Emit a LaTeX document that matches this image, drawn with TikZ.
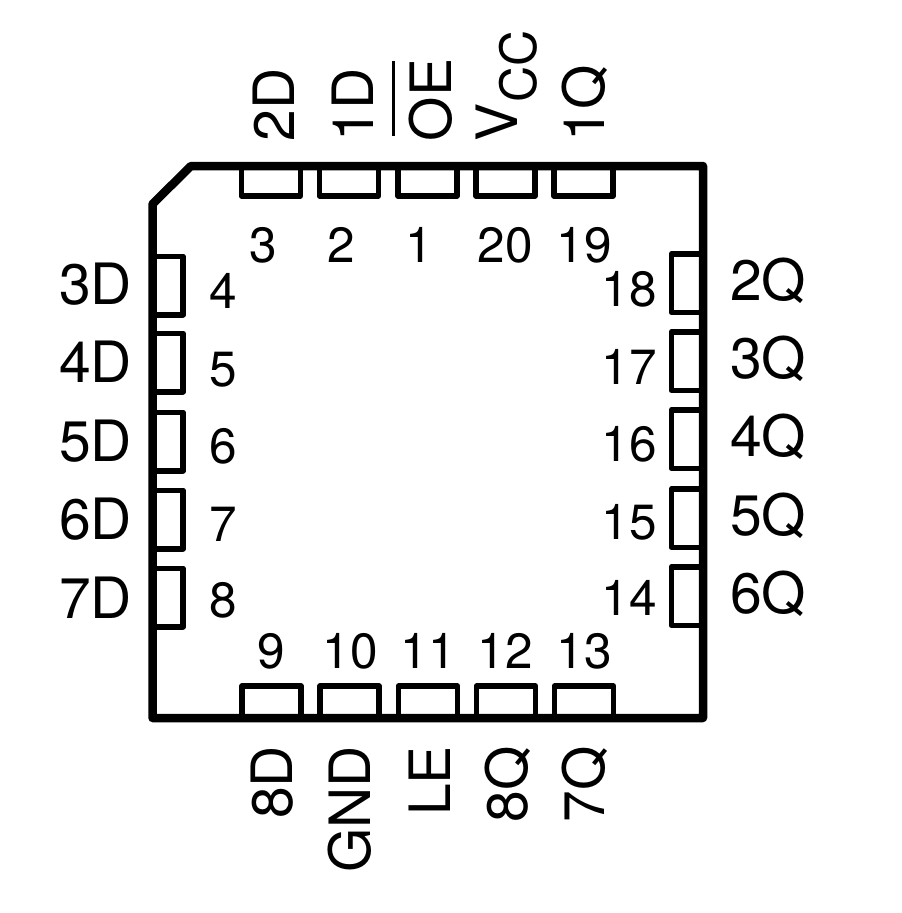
\documentclass[tikz,border=0pt]{standalone}
\usepackage{fontspec}
\setmainfont{TeX Gyre Heros}
\tikzset{
  pinbox/.style={draw=black,line width=5.5pt,line join=round,fill=none,inner sep=0pt,outer sep=0pt},
  hpin/.style={pinbox,minimum width=59pt,minimum height=36pt},
  vpin/.style={pinbox,minimum width=36pt,minimum height=58.5pt},
  sig/.style={inner sep=0pt,outer sep=0pt,font=\fontsize{57pt}{57pt}\selectfont},
  num/.style={inner sep=0pt,outer sep=0pt,font=\fontsize{49.5pt}{50pt}\selectfont},
  top sig/.style={sig,rotate=90,anchor=base west},
  bot sig/.style={sig,rotate=90,anchor=base east},
  left sig/.style={sig,anchor=base east},
  right sig/.style={sig,anchor=base west},
  num c/.style={num,anchor=base},
  num r/.style={num,anchor=base east},
}
\begin{document}
\begin{tikzpicture}[x=1pt,y=-1pt]
\useasboundingbox (0,0) rectangle (902,913);
% top pins
\node[hpin] (p3)  at (271,178) {};
\node[hpin] (p2)  at (349,178) {};
\node[hpin] (p1)  at (427.5,178) {};
\node[hpin] (p20) at (505.5,178) {};
\node[hpin] (p19) at (583.5,178) {};
% bottom pins
\node[hpin] (p9)  at (271.5,704) {};
\node[hpin] (p10) at (349.5,704) {};
\node[hpin] (p11) at (428,704) {};
\node[hpin] (p12) at (506,704) {};
\node[hpin] (p13) at (584,704) {};
% left pins
\node[vpin] (p4) at (165,285.5) {};
\node[vpin] (p5) at (165,362.5) {};
\node[vpin] (p6) at (165,441.5) {};
\node[vpin] (p7) at (165,519.5) {};
\node[vpin] (p8) at (165,597.5) {};
% right pins
\node[vpin] (p18) at (689.5,283) {};
\node[vpin] (p17) at (689.5,361) {};
\node[vpin] (p16) at (689.5,439) {};
\node[vpin] (p15) at (689.5,518) {};
\node[vpin] (p14) at (689.5,596) {};
% package outline, over the pins
\fill[white] (119,130) rectangle (152,660);
\fill[white] (703,130) rectangle (730,660);
\fill[white] (230,138) rectangle (630,166);
\fill[white] (230,718) rectangle (630,745);
\draw[line width=8.5pt,line join=round] (191,166) -- (703,166) -- (703,718) -- (152.5,718) -- (152.5,204) -- cycle;
% top labels
\node[top sig] (l2d) at (294.5,141) {2D};
\node[top sig] (l1d) at (373,141) {1D};
\node[top sig] (loe) at (451.5,141) {OE};
\draw[line width=3pt] (393,61) -- (393,136);
\node[top sig] (lvcc) at (517,141) {V\raisebox{-19pt}{\fontsize{50pt}{50pt}\selectfont CC}};
\node[top sig] (l1q) at (604,141) {1Q};
% bottom labels
\node[bot sig] (l8d) at (292,746) {8D};
\node[bot sig] (lgnd) at (370.5,746) {GND};
\node[bot sig] (lle) at (450,746) {LE};
\node[bot sig] (l8q) at (527,746) {8Q};
\node[bot sig] (l7q) at (604,746) {7Q};
% left labels
\node[left sig] (l3d) at (132,304) {3D};
\node[left sig] (l4d) at (132,382) {4D};
\node[left sig] (l5d) at (132,461) {5D};
\node[left sig] (l6d) at (132,539) {6D};
\node[left sig] (l7d) at (132,618) {7D};
% right labels
\node[right sig] (l2q) at (730,300) {2Q};
\node[right sig] (l3q) at (730,378) {3Q};
\node[right sig] (l4q) at (730,456) {4Q};
\node[right sig] (l5q) at (730,535) {5Q};
\node[right sig] (l6q) at (730,613) {6Q};
% pin numbers
\node[num c] (n3)  at (263.5,262) {3};
\node[num c] (n2)  at (341,262) {2};
\node[num c] (n1)  at (419,262) {1};
\node[num c] (n20) at (505,262) {20};
\node[num c] (n19) at (584,262) {19};
\node[num c] (n4) at (223.5,308) {4};
\node[num c] (n5) at (223.5,386) {5};
\node[num c] (n6) at (223.5,463) {6};
\node[num c] (n7) at (223.5,541) {7};
\node[num c] (n8) at (223.5,617) {8};
\node[num r] (n18) at (657,306) {18};
\node[num r] (n17) at (657,384) {17};
\node[num r] (n16) at (657,461) {16};
\node[num r] (n15) at (657,539) {15};
\node[num r] (n14) at (657,615) {14};
\node[num c] (n9)  at (271,668) {9};
\node[num c] (n10) at (350,668) {10};
\node[num c] (n11) at (428,668) {11};
\node[num c] (n12) at (505,668) {12};
\node[num c] (n13) at (584,668) {13};
\end{tikzpicture}
\end{document}
